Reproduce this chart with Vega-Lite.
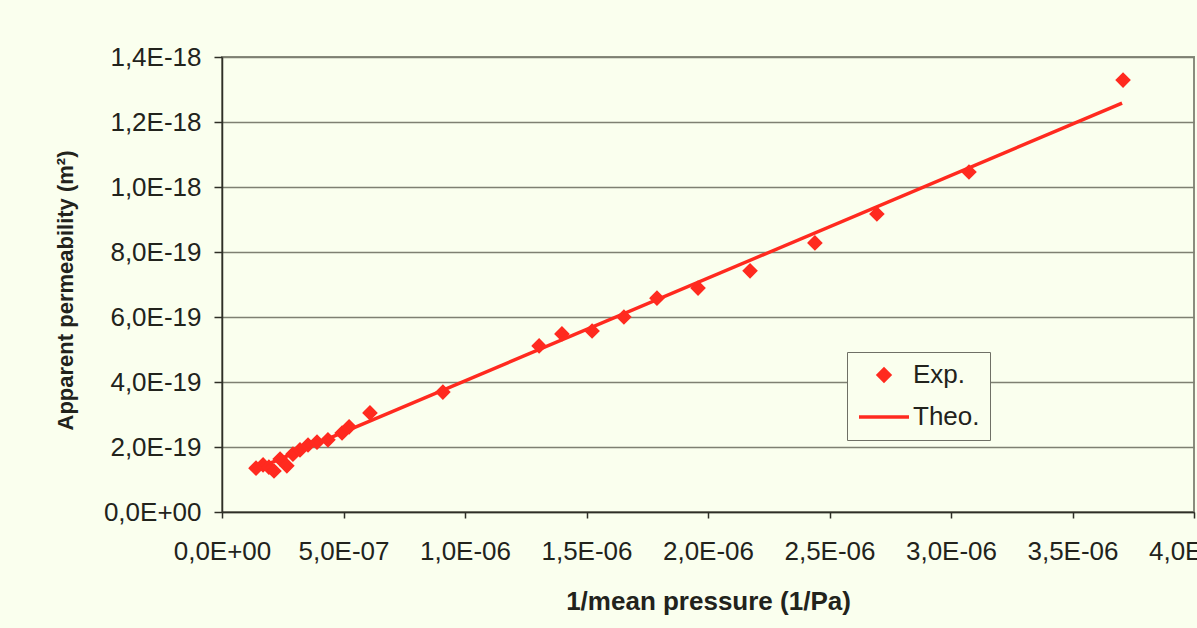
{
  "$schema": "https://vega.github.io/schema/vega-lite/v6.json",
  "width": 972,
  "height": 455,
  "autosize": {"type": "none"},
  "padding": {"left": 222, "top": 57, "right": 3, "bottom": 116},
  "background": "#FAFFEE",
  "config": {
    "view": {"stroke": "#8A8C7E", "strokeWidth": 2, "fill": "#FAFFEE"},
    "font": "Liberation Sans",
    "axis": {
      "labelFont": "Liberation Sans",
      "titleFont": "Liberation Sans",
      "labelColor": "#22231C",
      "titleColor": "#22231C",
      "domainColor": "#2E2F27",
      "tickColor": "#2E2F27",
      "domainWidth": 1.5,
      "tickWidth": 1.5
    }
  },
  "data": {
    "values": [
      {"series": "Exp.", "x": 1.40e-7, "y": 1.35e-19},
      {"series": "Exp.", "x": 1.69e-7, "y": 1.45e-19},
      {"series": "Exp.", "x": 1.93e-7, "y": 1.38e-19},
      {"series": "Exp.", "x": 2.14e-7, "y": 1.26e-19},
      {"series": "Exp.", "x": 2.39e-7, "y": 1.63e-19},
      {"series": "Exp.", "x": 2.67e-7, "y": 1.42e-19},
      {"series": "Exp.", "x": 2.92e-7, "y": 1.78e-19},
      {"series": "Exp.", "x": 3.21e-7, "y": 1.91e-19},
      {"series": "Exp.", "x": 3.54e-7, "y": 2.06e-19},
      {"series": "Exp.", "x": 3.91e-7, "y": 2.15e-19},
      {"series": "Exp.", "x": 4.36e-7, "y": 2.22e-19},
      {"series": "Exp.", "x": 4.94e-7, "y": 2.43e-19},
      {"series": "Exp.", "x": 5.23e-7, "y": 2.62e-19},
      {"series": "Exp.", "x": 6.09e-7, "y": 3.05e-19},
      {"series": "Exp.", "x": 9.09e-7, "y": 3.69e-19},
      {"series": "Exp.", "x": 1.305e-6, "y": 5.11e-19},
      {"series": "Exp.", "x": 1.399e-6, "y": 5.48e-19},
      {"series": "Exp.", "x": 1.523e-6, "y": 5.57e-19},
      {"series": "Exp.", "x": 1.654e-6, "y": 6.00e-19},
      {"series": "Exp.", "x": 1.790e-6, "y": 6.58e-19},
      {"series": "Exp.", "x": 1.959e-6, "y": 6.89e-19},
      {"series": "Exp.", "x": 2.173e-6, "y": 7.42e-19},
      {"series": "Exp.", "x": 2.440e-6, "y": 8.28e-19},
      {"series": "Exp.", "x": 2.695e-6, "y": 9.17e-19},
      {"series": "Exp.", "x": 3.074e-6, "y": 1.046e-18},
      {"series": "Exp.", "x": 3.708e-6, "y": 1.329e-18},
      {"series": "Theo.", "x": 1.40e-7, "y": 1.32e-19},
      {"series": "Theo.", "x": 3.704e-6, "y": 1.258e-18}
    ]
  },
  "layer": [
    {
      "transform": [{"filter": "datum.series == 'Theo.'"}],
      "mark": {"type": "line", "color": "#FF2A1F", "strokeWidth": 3.5},
      "encoding": {
        "x": {"field": "x", "type": "quantitative"},
        "y": {"field": "y", "type": "quantitative"}
      }
    },
    {
      "transform": [{"filter": "datum.series == 'Exp.'"}],
      "mark": {"type": "point", "filled": true, "stroke": "#FF2A1F", "strokeWidth": 3, "opacity": 1, "fillOpacity": 1, "strokeOpacity": 1},
      "encoding": {
        "x": {
          "field": "x", "type": "quantitative",
          "scale": {"domain": [0, 4e-6], "nice": false, "zero": true},
          "axis": {
            "values": [0, 5e-7, 1e-6, 1.5e-6, 2e-6, 2.5e-6, 3e-6, 3.5e-6, 4e-6],
            "grid": false,
            "tickSize": 6,
            "labelPadding": 20,
            "labelFontSize": 26,
            "labelFlush": false,
            "labelOverlap": false,
            "labelExpr": "datum.value == 0 ? '0,0E+00' : replace(format(datum.value / pow(10, floor(log(datum.value) / LN10 + 1e-9)), '.1f'), '.', ',') + 'E-' + format(-floor(log(datum.value) / LN10 + 1e-9), '02d')",
            "title": "1/mean pressure (1/Pa)",
            "titleFontSize": 26,
            "titleFontWeight": "bold",
            "titleX": 486,
            "titleY": 89,
            "titleBaseline": "middle",
            "titleAlign": "center"
          }
        },
        "y": {
          "field": "y", "type": "quantitative",
          "scale": {"domain": [0, 1.4e-18], "nice": false},
          "axis": {
            "values": [0, 2e-19, 4e-19, 6e-19, 8e-19, 1e-18, 1.2e-18, 1.4e-18],
            "grid": true,
            "gridColor": "#7E8072",
            "gridWidth": 1.5,
            "tickSize": 8,
            "labelPadding": 13,
            "labelFontSize": 26,
            "labelOverlap": false,
            "labelExpr": "datum.value == 0 ? '0,0E+00' : replace(format(datum.value / pow(10, floor(log(datum.value) / LN10 + 1e-9)), '.1f'), '.', ',') + 'E-' + format(-floor(log(datum.value) / LN10 + 1e-9), '02d')",
            "title": "Apparent permeability (m²)",
            "titleFontSize": 22,
            "titleFontWeight": "bold",
            "titleAngle": -90,
            "titleX": -157,
            "titleY": 233,
            "titleBaseline": "middle",
            "titleAlign": "center"
          }
        },
        "color": {
          "field": "series", "type": "nominal",
          "scale": {"domain": ["Exp.", "Theo."], "range": ["#FF2A1F", "#FF2A1F"]}
        },
        "shape": {
          "field": "series", "type": "nominal",
          "scale": {"domain": ["Exp.", "Theo."], "range": ["diamond", "stroke"]}
        },
        "size": {
          "field": "series", "type": "nominal",
          "scale": {"domain": ["Exp.", "Theo."], "range": [130, 2500]},
          "legend": {
            "orient": "none",
            "legendX": 625,
            "legendY": 295,
            "title": null,
            "strokeColor": "#6F7066",
            "fillColor": "#FAFFEE",
            "padding": 10,
            "labelFont": "Liberation Sans",
            "labelFontSize": 26,
            "labelColor": "#22231C",
            "labelOffset": 2,
            "symbolStrokeColor": "#FF2A1F",
            "symbolStrokeWidth": 3.5,
            "symbolFillColor": "#FF2A1F",
            "symbolOpacity": 1,
            "rowPadding": 2
          }
        }
      }
    }
  ]
}
